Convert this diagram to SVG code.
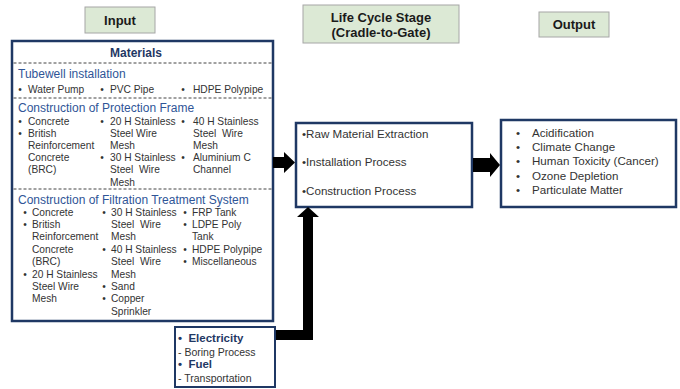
<svg xmlns="http://www.w3.org/2000/svg" width="680" height="389" viewBox="0 0 680 389">
<style>
text{font-family:"Liberation Sans",Arial,sans-serif}
.lbl{fill:#dce9d5;stroke:#a6a6a6;stroke-width:1}
.lt{font-size:13px;font-weight:bold;fill:#1a1a1a;text-anchor:middle}
.box{fill:#fff;stroke:#1f3864;stroke-width:2.5}
.dash{stroke:#444;stroke-width:1;stroke-dasharray:3 2;fill:none}
.hd{font-size:12px;fill:#2f5597}
.b{font-size:10.2px;fill:#333}
.bu{font-size:10.2px;fill:#333;text-anchor:middle}
.m{font-size:11.6px;fill:#333}
.arr{fill:#000}
</style>

<g id="input-label">
<rect class="lbl" x="85" y="7" width="70" height="26"/>
<text class="lt" x="120" y="24.5">Input</text>
</g>

<g id="lifecycle-label">
<rect class="lbl" x="303" y="5" width="156" height="38"/>
<text class="lt" x="381" y="21.5">Life Cycle Stage</text>
<text class="lt" x="381" y="37">(Cradle-to-Gate)</text>
</g>

<g id="output-label">
<rect class="lbl" x="539" y="12" width="70" height="25"/>
<text class="lt" x="574" y="29">Output</text>
</g>

<g id="materials">
<rect class="box" x="12" y="41" width="261" height="280"/>
<text x="136" y="56.5" text-anchor="middle" font-size="12px" font-weight="bold" fill="#1f3864">Materials</text>
<line class="dash" x1="13.5" y1="63" x2="271.5" y2="63"/>
<text class="hd" x="18" y="77.5">Tubewell installation</text>
<text class="bu" x="20" y="93">•</text><text class="b" x="28" y="93">Water Pump</text>
<text class="bu" x="102" y="93">•</text><text class="b" x="110" y="93">PVC Pipe</text>
<text class="bu" x="183" y="93">•</text><text class="b" x="193" y="93">HDPE Polypipe</text>
<line class="dash" x1="13.5" y1="98" x2="271.5" y2="98"/>
<text class="hd" x="18" y="111.5">Construction of Protection Frame</text>
<text class="bu" x="20" y="124.5">•</text><text class="b" x="28" y="124.5">Concrete</text>
<text class="bu" x="20" y="136.7">•</text><text class="b" x="28" y="136.7">British</text>
<text class="b" x="28" y="148.9">Reinforcement</text>
<text class="b" x="28" y="161.1">Concrete</text>
<text class="b" x="28" y="173.3">(BRC)</text>
<text class="bu" x="102" y="124.5">•</text><text class="b" x="110" y="124.5">20 H Stainless</text>
<text class="b" x="110" y="136.7">Steel Wire</text>
<text class="b" x="110" y="148.9">Mesh</text>
<text class="bu" x="102" y="161.1">•</text><text class="b" x="110" y="161.1">30 H Stainless</text>
<text class="b" x="110" y="173.3" xml:space="preserve">Steel  Wire</text>
<text class="b" x="110" y="185.5">Mesh</text>
<text class="bu" x="183" y="124.5">•</text><text class="b" x="193" y="124.5">40 H Stainless</text>
<text class="b" x="193" y="136.7" xml:space="preserve">Steel  Wire</text>
<text class="b" x="193" y="148.9">Mesh</text>
<text class="bu" x="183" y="161.1">•</text><text class="b" x="193" y="161.1">Aluminium C</text>
<text class="b" x="193" y="173.3">Channel</text>
<line class="dash" x1="13.5" y1="189" x2="271.5" y2="189"/>
<text class="hd" x="18" y="203.5">Construction of Filtration Treatment System</text>
<text class="bu" x="25" y="215.5">•</text><text class="b" x="32" y="215.5">Concrete</text>
<text class="bu" x="25" y="228">•</text><text class="b" x="32" y="228">British</text>
<text class="b" x="32" y="240.4">Reinforcement</text>
<text class="b" x="32" y="252.8">Concrete</text>
<text class="b" x="32" y="265.2">(BRC)</text>
<text class="bu" x="25" y="277.6">•</text><text class="b" x="32" y="277.6">20 H Stainless</text>
<text class="b" x="32" y="290">Steel Wire</text>
<text class="b" x="32" y="302.4">Mesh</text>
<text class="bu" x="104" y="215.5">•</text><text class="b" x="111" y="215.5">30 H Stainless</text>
<text class="b" x="111" y="228" xml:space="preserve">Steel  Wire</text>
<text class="b" x="111" y="240.4">Mesh</text>
<text class="bu" x="104" y="252.8">•</text><text class="b" x="111" y="252.8">40 H Stainless</text>
<text class="b" x="111" y="265.2" xml:space="preserve">Steel  Wire</text>
<text class="b" x="111" y="277.6">Mesh</text>
<text class="bu" x="104" y="290">•</text><text class="b" x="111" y="290">Sand</text>
<text class="bu" x="104" y="302.4">•</text><text class="b" x="111" y="302.4">Copper</text>
<text class="b" x="111" y="314.8">Sprinkler</text>
<text class="bu" x="185" y="215.5">•</text><text class="b" x="192" y="215.5">FRP Tank</text>
<text class="bu" x="185" y="228">•</text><text class="b" x="192" y="228">LDPE Poly</text>
<text class="b" x="192" y="240.4">Tank</text>
<text class="bu" x="185" y="252.8">•</text><text class="b" x="192" y="252.8">HDPE Polypipe</text>
<text class="bu" x="185" y="265.2">•</text><text class="b" x="192" y="265.2">Miscellaneous</text>
</g>

<g id="lifecycle">
<rect class="box" x="296" y="123" width="176" height="84"/>
<text class="m" x="302" y="137.5">•Raw Material Extraction</text>
<text class="m" x="302" y="166">•Installation Process</text>
<text class="m" x="302" y="195">•Construction Process</text>
</g>

<g id="output">
<rect class="box" x="501" y="120" width="175" height="87"/>
<text class="m" x="516" y="137">•</text><text class="m" x="532" y="137">Acidification</text>
<text class="m" x="516" y="151">•</text><text class="m" x="532" y="151">Climate Change</text>
<text class="m" x="516" y="165">•</text><text class="m" x="532" y="165">Human Toxicity (Cancer)</text>
<text class="m" x="516" y="179.5">•</text><text class="m" x="532" y="179.5">Ozone Depletion</text>
<text class="m" x="516" y="194">•</text><text class="m" x="532" y="194">Particulate Matter</text>
</g>

<g id="energy">
<rect x="175" y="327" width="100" height="60" fill="#fff" stroke="#1f3864" stroke-width="2"/>
<text x="178" y="342" font-size="11.5px" font-weight="bold" fill="#1f3864" xml:space="preserve">•  Electricity</text>
<text x="178" y="356" font-size="10.5px" fill="#333">- Boring Process</text>
<text x="178" y="367.5" font-size="11.5px" font-weight="bold" fill="#1f3864" xml:space="preserve">•  Fuel</text>
<text x="178" y="382" font-size="10.5px" fill="#333">- Transportation</text>
</g>

<g id="connectors">
<polygon class="arr" points="273,157 284,157 284,152 295,162.5 284,173 284,168 273,168"/>
<polygon class="arr" points="473,158 490,158 490,153 500,165 490,177 490,172 473,172"/>
<polygon class="arr" points="276,330 303,330 303,217 297,217 308,207 319,217 313,217 313,340 276,340"/>
</g>
</svg>
